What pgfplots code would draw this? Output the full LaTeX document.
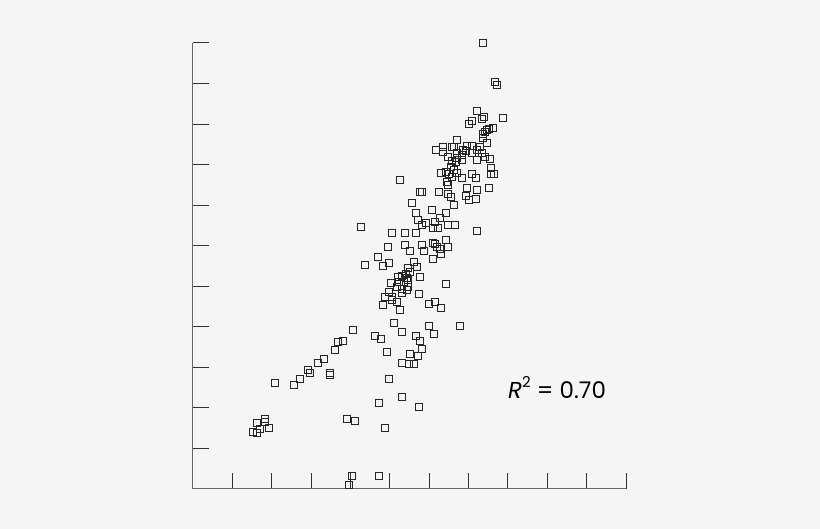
\documentclass[border=0pt]{standalone}
\usepackage{pgfplots}
\pgfplotsset{compat=1.18}
\usepackage{fontspec}
\setmainfont{Poppins}
\definecolor{bg}{HTML}{F5F5F5}
\definecolor{axisgray}{HTML}{666666}
\begin{document}
\begin{tikzpicture}
  % page background, 820 x 529
  \fill[bg] (-193pt,-40pt) rectangle (627pt,489pt);
  \begin{axis}[
    at={(0,0)}, anchor=origin,
    scale only axis,
    width=433pt, height=446pt,
    xmin=0, xmax=433, ymin=0, ymax=446,
    axis x line*=bottom, axis y line*=left,
    tick align=inside,
    major tick length=16pt,
    xtick={0,39.36,78.73,118.09,157.45,196.82,236.18,275.55,314.91,354.27,393.64,433},
    ytick={0,40.55,81.1,121.6,162.2,202.7,243.3,283.8,324.4,364.9,405.5,446},
    xticklabels={}, yticklabels={},
    axis line style={axisgray, line width=1pt},
    every tick/.style={black!80, line width=1pt},
    clip=false,
  ]
    \addplot[only marks, mark=square, mark size=3.3pt,
      mark options={draw=black!85, line width=1pt}] coordinates {
      (290,446) (302,407) (304,404) (284,378) (310,371) (289,370) (291,372)
      (279,368) (276,365) (296,360) (300,361) (294,359) (292,357) (290,355)
      (290,351) (294,346) (264,349) (287,342) (274,343) (279,343) (279,336)
      (284,339) (289,336) (292,332) (297,330) (284,329) (270,339) (243,339)
      (250,342) (250,337) (259,342) (264,336) (255,332) (259,328) (264,331)
      (269,334) (269,329) (248,316) (253,317) (256,315) (259,312) (264,316)
      (269,311) (254,307) (255,304) (279,315) (283,311) (298,321) (298,315)
      (301,315) (258,322) (261,319) (273,338) (261,342) (263,327)
      (207,309) (227,297) (229,297) (246,297) (255,295) (258,292) (261,284)
      (274,301) (273,293) (276,289) (283,290) (284,299) (296,301) (219,286)
      (223,276) (239,279) (253,276) (225,269) (229,264) (233,266) (242,267)
      (247,271) (240,261) (245,261) (255,264) (262,264) (168,262) (199,256)
      (212,256) (223,256) (284,258) (195,242) (212,244) (217,238) (229,244)
      (231,238) (240,246) (242,245) (244,242) (247,240) (248,235) (253,249)
      (255,242) (240,230) (185,232) (190,223) (196,226) (172,224) (221,227)
      (224,222) (215,221) (217,217) (213,215) (214,211) (209,213) (205,212)
      (206,207) (211,207) (215,209) (227,212) (198,206) (204,202) (209,200)
      (209,196) (214,199) (215,202) (226,195) (253,205) (192,192) (199,192)
      (196,197) (190,184) (199,189) (204,187) (207,179) (236,185) (242,187)
      (248,181) (201,166) (209,157) (236,163) (241,155) (267,163) (223,153)
      (227,148) (229,140) (217,135) (225,133) (209,126) (216,125) (221,125)
      (194,137) (196,110) (182,153) (188,150) (160,159) (150,148) (145,147)
      (142,139) (131,130) (125,126) (115,119) (117,116) (137,116) (137,114)
      (107,110) (101,104) (82,106) (72,70) (64,66) (67,60) (76,61) (60,57)
      (64,56) (72,67) (154,70) (162,68) (186,86) (209,92) (226,82) (192,61)
      (159,13) (186,13) (156,4)
    };
    \node[anchor=base west, inner sep=0pt, font=\fontsize{23}{27}\selectfont]
      at (axis cs:315,90)
      {\textit{R}\raisebox{0.48em}{\fontsize{15}{15}\selectfont 2} = 0.70};
  \end{axis}
\end{tikzpicture}
\end{document}
